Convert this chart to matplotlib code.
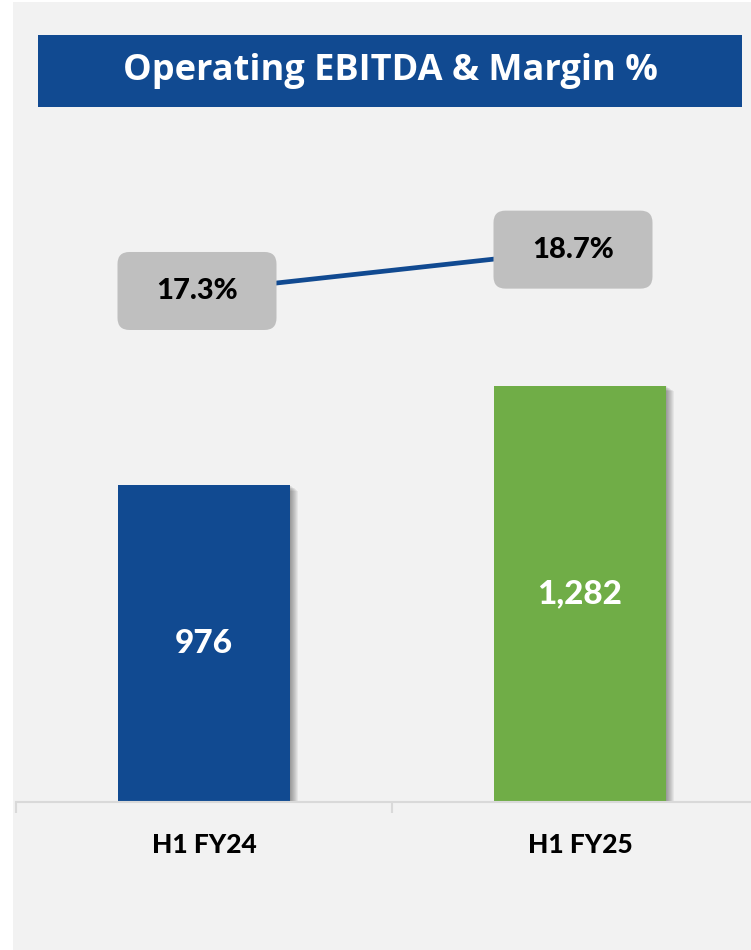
import matplotlib
matplotlib.use("Agg")
import matplotlib.pyplot as plt
import matplotlib.patheffects as pe
from matplotlib.patches import Rectangle, FancyBboxPatch
from matplotlib.transforms import ScaledTranslation

periods = ["H1 FY24", "H1 FY25"]
ebitda = [976, 1282]
margin = [17.3, 18.7]
title = "Operating EBITDA & Margin %"

W, H, DPI = 751, 950, 100
bg = "#F2F2F2"
navy = "#114A91"
green = "#70AD47"
wt = 900

fig = plt.figure(figsize=(W / DPI, H / DPI), dpi=DPI, facecolor="white")

# gray panel + title banner (pixel positions converted to figure fractions)
fig.patches.append(Rectangle((13 / W, 0), 1, 1 - 2 / H, transform=fig.transFigure,
                             facecolor=bg, edgecolor="none", zorder=-10))
fig.patches.append(Rectangle((38 / W, 1 - 107 / H), (742 - 38) / W, 72 / H,
                             transform=fig.transFigure, facecolor=navy,
                             edgecolor="none", zorder=-5))
fig.text(390 / W, 1 - 71 / H, title, color="white", fontsize=26,
         fontfamily="Open Sans", fontweight="bold", ha="center", va="center")

ax = fig.add_axes([16 / W, (H - 802) / H, 752 / W, (802 - 130) / H])
ax.set_facecolor("none")
ax.set_xlim(-0.5, 1.5)
ax.set_ylim(0, 2069)

shadow = [pe.SimplePatchShadow(offset=(d * 0.72, -d * 0.5), shadow_rgbFace="black",
                               alpha=0.05) for d in range(1, 9)]
bars = ax.bar(range(len(periods)), ebitda, width=0.457, color=[navy, green], zorder=2)
for b in bars:
    b.set_path_effects(shadow + [pe.Normal()])

for i, v in enumerate(ebitda):
    ax.text(i, v / 2, f"{v:,}", color="white", fontsize=24, fontfamily="Lato",
            fontweight=wt, ha="center", va="center", zorder=3)

for s in ["left", "right", "top"]:
    ax.spines[s].set_visible(False)
ax.spines["bottom"].set_color("#D9D9D9")
ax.spines["bottom"].set_linewidth(1.5)
ax.set_yticks([])
ax.set_xticks(range(len(periods)), labels=periods)
ax.set_xticks([-0.5, 0.5, 1.5], minor=True)
ax.tick_params(axis="x", which="major", length=0, pad=22)
ax.tick_params(axis="x", which="minor", length=8, width=1.5, color="#D9D9D9")
for lbl in ax.get_xticklabels():
    lbl.set_fontfamily("Lato")
    lbl.set_fontweight(wt)
    lbl.set_fontsize(19)

ax2 = ax.twinx()
ax2.set_ylim(0, 22.75)
ax2.axis("off")
ax2.plot(range(len(margin)), margin, color=navy, linewidth=3.4, zorder=2,
         solid_capstyle="butt")
for i, m in enumerate(margin):
    tr = fig.dpi_scale_trans + ScaledTranslation(i, m, ax2.transData)
    box = FancyBboxPatch((-0.865, -0.39), 1.59, 0.78,
                         boxstyle="round,pad=0,rounding_size=0.12",
                         transform=tr, facecolor="#BFBFBF", edgecolor="none",
                         zorder=3, clip_on=False)
    ax2.add_patch(box)
    ax2.text(-0.07, 0, f"{m}%", transform=tr, fontsize=21, fontfamily="Lato",
             fontweight=wt, ha="center", va="center", zorder=4)

fig.savefig("out.png", dpi=DPI, facecolor="white")
